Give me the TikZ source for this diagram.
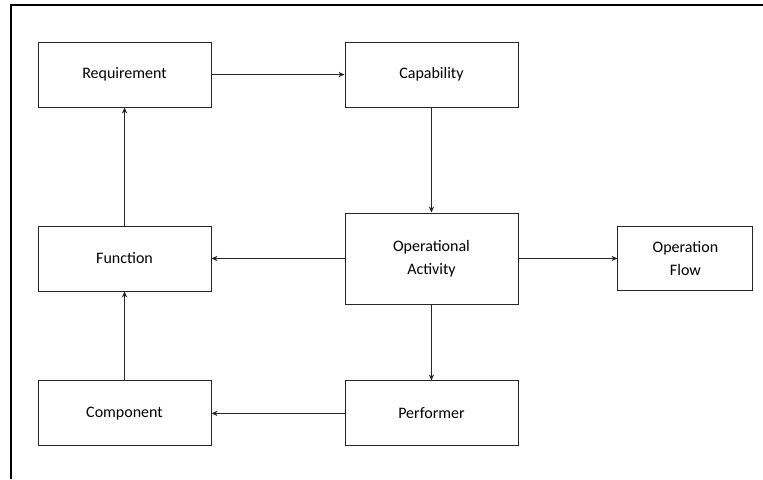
\documentclass[tikz,border=0pt]{standalone}
\usepackage{fontspec}
\setmainfont{Carlito}
\usetikzlibrary{arrows.meta,positioning}

\begin{document}
\begin{tikzpicture}[
  block/.style={rectangle, draw=black!85, line width=0.7pt,
    minimum width=129.75pt, minimum height=48.75pt, inner sep=2pt,
    font=\fontsize{12}{17}\selectfont, align=center},
  arrow/.style={-{Stealth[length=4.5pt,width=4pt]}, line width=0.6pt, black!85},
  node distance=88.5pt and 99.75pt,
]
\useasboundingbox (0,0) rectangle (572.25pt,-359.25pt);

% Frame (top and left only)
\draw[line width=1.5pt] (763pt*0.75,-3.75pt) -- (8.25pt,-3.75pt) -- (8.25pt,-359.25pt);

% Column 1
\node[block] (req) at (93.4pt,-55.9pt) {Requirement};
\node[block, below=of req] (fun) {Function};
\node[block, below=66.75pt of fun] (comp) {Component};

% Column 2
\node[block, right=of req] (cap) {Capability};
\node[block, right=of fun, minimum height=68.25pt] (opact) {Operational\\Activity};
\node[block, right=of comp] (perf) {Performer};

% Column 3
\node[block, right=74.25pt of opact, minimum width=101.25pt, minimum height=48pt] (opflow) {Operation\\Flow};

\draw[arrow] (req) -- (cap);
\draw[arrow] (cap) -- (opact);
\draw[arrow] (opact) -- (fun);
\draw[arrow] (opact) -- (opflow);
\draw[arrow] (opact) -- (perf);
\draw[arrow] (perf) -- (comp);
\draw[arrow] (comp) -- (fun);
\draw[arrow] (fun) -- (req);

\end{tikzpicture}
\end{document}
